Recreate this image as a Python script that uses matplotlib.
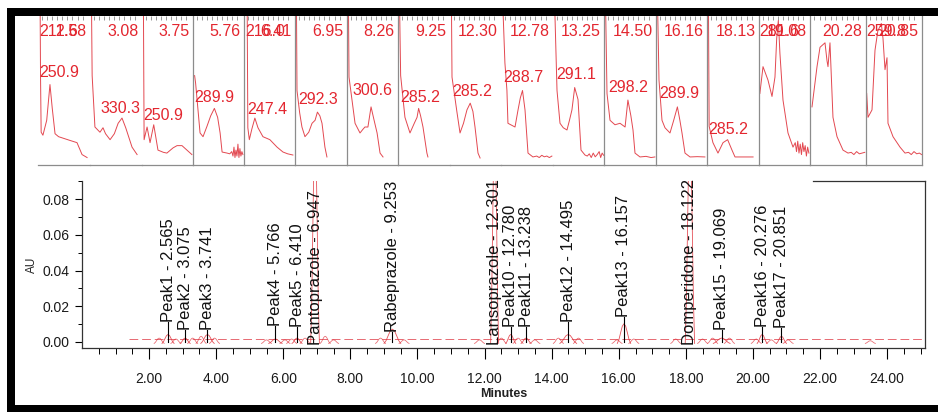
import matplotlib
matplotlib.use("Agg")
import matplotlib.pyplot as plt
from matplotlib.patches import Rectangle
import numpy as np

plt.rcParams['font.family'] = ['Liberation Sans', 'DejaVu Sans']

# ---------------- data ----------------
# UV spectra strip: retention time of each extracted spectrum
spec_rt_labels = ["2.58", "3.08", "3.75", "5.76", "6.41", "6.95", "8.26", "9.25",
                  "12.30", "12.78", "13.25", "14.50", "16.16", "18.13", "19.08",
                  "20.28", "20.85"]

# lambda-max annotations per spectrum (nm)
spec_lambda_max = [[211.6, 250.9], [330.3], [250.9], [289.9], [216.0, 247.4],
                   [292.3], [300.6], [285.2], [285.2], [288.7], [291.1], [298.2],
                   [289.9], [285.2], [281.6], [], [259.8]]

# spectra: wavelength (nm) and relative absorbance (1.0 = panel top)
spec_wl = [
    [210, 211.6, 213.5, 216, 223, 238, 250.9, 260, 271, 285, 303, 330, 358, 378, 398],
    [209, 212, 223, 243, 255, 265, 283, 300, 315, 330.3, 345, 370, 390],
    [209, 212, 224, 236, 250.9, 268, 290, 304, 329, 345, 365, 385, 405],
    [210, 214, 232, 244, 260, 275, 289.9, 303, 313, 321, 341, 352, 360, 365, 369, 373,
     377, 381, 385, 389, 393, 397, 401, 405],
    [210, 216.0, 219, 225, 235, 247.4, 260, 280, 308, 337, 361, 380, 401],
    [209, 211.4, 222, 231, 243, 258, 271, 283, 292.3, 302, 310.5, 322, 330],
    [209, 211.6, 236, 256, 268, 276, 288, 300.6, 313, 325, 337, 349],
    [209, 214, 231, 251, 268, 279, 285.2, 293, 302.5, 318, 322],
    [209, 211.6, 232, 244, 258, 272, 285.2, 296, 304.5, 316.6, 325],
    [209, 219, 227, 231, 259, 271, 280, 288.7, 298.6, 310.5, 330, 345, 355, 365, 375,
     385, 395, 405],
    [209, 219.7, 231.8, 245, 260, 270, 280, 291.1, 304.5, 316.6, 332.7, 342, 350, 358,
     366, 374, 382, 390, 396, 402, 408],
    [209, 215.4, 227.3, 247, 267, 287, 298.2, 310, 318.4, 326.3, 346, 370, 390, 405],
    [209, 215.6, 227.7, 239.8, 260, 275, 289.9, 300, 308.5, 320.6, 340.8, 370, 401],
    [209, 212, 227, 247, 267, 285.2, 302.5, 314.4, 340, 386],
    [207, 219.7, 239.8, 256, 268, 275, 281.6, 288, 300.4, 320.6, 340.8, 350, 355, 360,
     365, 370, 375, 380, 385, 390, 395, 400, 405],
    [210.9, 229.3, 240.3, 258.7, 266, 269.7, 277, 288, 302.9, 324.9, 343.3, 355, 365,
     375, 385, 395, 405],
    [206, 210.9, 225.6, 236.6, 247, 259.8, 266, 273.4, 280.8, 284.4, 302.9, 328.6, 347,
     360, 370, 380, 390, 400, 408],
]
spec_abs = [
    [1.15, 1.15, 0.60, 0.22, 0.20, 0.30, 0.54, 0.38, 0.21, 0.19, 0.18, 0.165, 0.15, 0.07, 0.05],
    [1.15, 0.60, 0.255, 0.22, 0.25, 0.21, 0.17, 0.21, 0.28, 0.315, 0.25, 0.12, 0.07],
    [1.15, 0.17, 0.255, 0.15, 0.27, 0.10, 0.085, 0.08, 0.115, 0.13, 0.13, 0.10, 0.07],
    [0.60, 0.55, 0.215, 0.19, 0.26, 0.33, 0.38, 0.32, 0.215, 0.087, 0.08, 0.075, 0.09,
     0.06, 0.12, 0.05, 0.10, 0.06, 0.14, 0.05, 0.11, 0.06, 0.09, 0.07],
    [1.15, 1.15, 0.25, 0.17, 0.24, 0.315, 0.25, 0.19, 0.17, 0.12, 0.087, 0.075, 0.067],
    [1.15, 0.50, 0.35, 0.255, 0.19, 0.22, 0.28, 0.30, 0.355, 0.33, 0.28, 0.12, 0.054],
    [1.15, 0.59, 0.28, 0.215, 0.24, 0.255, 0.255, 0.39, 0.30, 0.215, 0.08, 0.054],
    [1.15, 0.60, 0.32, 0.215, 0.28, 0.32, 0.38, 0.33, 0.255, 0.08, 0.054],
    [1.15, 0.59, 0.35, 0.215, 0.28, 0.37, 0.415, 0.36, 0.255, 0.08, 0.047],
    [1.15, 0.685, 0.50, 0.28, 0.255, 0.37, 0.45, 0.50, 0.37, 0.08, 0.054, 0.06, 0.05,
     0.065, 0.055, 0.06, 0.05, 0.06],
    [1.15, 0.50, 0.28, 0.25, 0.235, 0.30, 0.37, 0.52, 0.44, 0.10, 0.067, 0.06, 0.075,
     0.05, 0.08, 0.055, 0.07, 0.09, 0.05, 0.08, 0.065],
    [1.15, 0.48, 0.30, 0.27, 0.28, 0.255, 0.436, 0.33, 0.235, 0.08, 0.054, 0.058, 0.05, 0.054],
    [1.15, 0.57, 0.30, 0.25, 0.215, 0.30, 0.39, 0.30, 0.215, 0.08, 0.054, 0.056, 0.054],
    [1.15, 0.26, 0.15, 0.08, 0.15, 0.17, 0.10, 0.054, 0.054, 0.054],
    [0.48, 0.66, 0.57, 0.46, 0.59, 0.85, 0.97, 0.75, 0.436, 0.215, 0.12, 0.15, 0.09,
     0.16, 0.08, 0.14, 0.07, 0.15, 0.09, 0.13, 0.06, 0.12, 0.08],
    [0.39, 0.66, 0.79, 0.82, 0.70, 0.66, 0.82, 0.32, 0.19, 0.10, 0.08, 0.085, 0.07,
     0.09, 0.075, 0.08, 0.085],
    [0.48, 0.32, 0.37, 0.77, 0.90, 0.95, 0.85, 0.64, 0.72, 0.28, 0.19, 0.12, 0.08,
     0.085, 0.07, 0.09, 0.075, 0.08, 0.07],
]

# chromatogram: identified peaks
peak_names = ["Peak1", "Peak2", "Peak3", "Peak4", "Peak5", "Pantoprazole",
              "Rabeprazole", "Lansoprazole", "Peak10", "Peak11", "Peak12", "Peak13",
              "Domperidone", "Peak15", "Peak16", "Peak17"]
peak_rt = [2.565, 3.075, 3.741, 5.766, 6.410, 6.947, 9.253, 12.301, 12.780, 13.238,
           14.495, 16.157, 18.122, 19.069, 20.276, 20.851]
peak_height = [0.005, 0.003, 0.005, 0.0025, 0.003, 0.12, 0.008, 0.12, 0.005, 0.003,
               0.005, 0.011, 0.12, 0.003, 0.005, 0.004]
peak_halfwidth = [0.18, 0.15, 0.20, 0.20, 0.15, 0.13, 0.25, 0.12, 0.15, 0.15, 0.25,
                  0.20, 0.14, 0.25, 0.15, 0.15]

# small unlabelled humps on the trace
minor_rt = [2.3, 2.8, 3.3, 3.55, 3.95, 5.5, 6.05, 6.25, 6.65, 7.25, 7.5, 8.9, 9.6,
            11.85, 12.5, 13.0, 13.5, 14.2, 14.8, 15.95, 16.45, 17.7, 18.5, 18.8, 19.3,
            20.1, 20.55, 21.05, 23.5]
minor_height = [0.003, 0.0025, 0.003, 0.004, 0.003, 0.002, 0.002, 0.0025, 0.003, 0.004,
                0.002, 0.003, 0.002, 0.002, 0.003, 0.003, 0.002, 0.003, 0.003, 0.002,
                0.0025, 0.0025, 0.0025, 0.003, 0.003, 0.0025, 0.002, 0.002, 0.0015]

x_ticks = [2, 4, 6, 8, 10, 12, 14, 16, 18, 20, 22, 24]
y_ticks = [0.0, 0.02, 0.04, 0.06, 0.08]

# ---------------- layout ----------------
W, H = 938, 412
RED = '#e3262f'
LINE_RED = '#e0343d'
GREY = '#8c8c8c'

fig = plt.figure(figsize=(W / 100, H / 100), dpi=100)
fig.patch.set_facecolor('white')


def fig_rect(x0, y0, x1, y1):
    """Pixel box (top-left origin) -> figure fraction [l, b, w, h]."""
    return [x0 / W, 1 - y1 / H, (x1 - x0) / W, (y1 - y0) / H]


panel_edges = [38, 90, 142, 193, 244, 295, 347, 398, 450, 501, 553, 604, 656, 707,
               759, 810, 866, 922]
panel_top, panel_bottom = 16, 165
left_border = [False, False, False, True, True, True, True, True, False, False, False,
               True, True, True, True, True, True]
lambda_label_pos = [[(207.5, 0.895), (207.5, 0.62)], [(243, 0.38)], [(207.5, 0.33)],
                    [(207.5, 0.45)], [(207.5, 0.895), (215.6, 0.37)], [(215.4, 0.44)],
                    [(223.7, 0.50)], [(211.4, 0.45)], [(211.6, 0.49)], [(211.4, 0.59)],
                    [(215.6, 0.61)], [(219.3, 0.52)], [(215.6, 0.48)], [(207.5, 0.235)],
                    [(205, 0.895)], [], [(205, 0.895)]]
WL_MIN, WL_MAX = 203.5, 409.5

for i in range(len(spec_rt_labels)):
    x0, x1 = panel_edges[i], panel_edges[i + 1]
    ax = fig.add_axes(fig_rect(x0, panel_top, x1, panel_bottom))
    ax.set_xlim(WL_MIN, WL_MAX)
    ax.set_ylim(0, 1)
    ax.patch.set_alpha(0)
    ax.plot(spec_wl[i], spec_abs[i], color=LINE_RED, lw=0.7, alpha=0.9, clip_on=True)
    for s in ['top', 'right']:
        ax.spines[s].set_visible(False)
    ax.spines['left'].set_visible(left_border[i])
    if i == len(spec_rt_labels) - 1:
        ax.spines['right'].set_visible(True)
    for s in ['left', 'right', 'bottom']:
        ax.spines[s].set_color(GREY)
        ax.spines[s].set_linewidth(0.9)
    ax.set_xticks(np.arange(220, 400, 20))
    ax.set_yticks([])
    ax.tick_params(axis='x', which='both', top=True, bottom=False, direction='in',
                   length=3, width=0.7, color='#999999', labelbottom=False)
    # retention time (top right)
    ax.text(1 - 3.5 / (x1 - x0), 0.895, spec_rt_labels[i], transform=ax.transAxes,
            ha='right', va='center', color=RED, fontsize=11.5)
    for lam, (lx, ly) in zip(spec_lambda_max[i], lambda_label_pos[i]):
        ax.text(lx, ly, f"{lam:.1f}", ha='left', va='center', color=RED, fontsize=11.5)

# ---------------- chromatogram ----------------
X_MAX = 25.13
cax = fig.add_axes(fig_rect(82, 181, 925, 348))
cax.set_xlim(0, X_MAX)
cax.set_ylim(-0.00336, 0.0901)
cax.patch.set_alpha(0)

PROFILE_X = np.array([-1, -0.75, -0.5, -0.25, 0, 0.25, 0.5, 0.75, 1])
PROFILE_Y = np.array([0, 0.2, 0.55, 0.88, 1, 0.88, 0.55, 0.2, 0])
ARC_BASE = -0.0008

# baseline
cax.plot([1.4, X_MAX], [0.0017, 0.0017], color='#e2505a', lw=0.7, alpha=0.85,
         dashes=(9, 4))

for rt, h in zip(minor_rt, minor_height):
    cax.plot(rt + 0.15 * PROFILE_X, ARC_BASE + h * PROFILE_Y, color=LINE_RED,
             lw=0.55, alpha=0.75)

label_bottom = [0.0112, 0.0067, 0.0067, 0.0090, 0.0084, -0.0017, 0.0056, -0.0017,
                0.0084, 0.0084, 0.0112, 0.0140, -0.0017, 0.0067, 0.0084, 0.0078]

for name, rt, h, hw, lb in zip(peak_names, peak_rt, peak_height, peak_halfwidth,
                               label_bottom):
    cax.plot(rt + hw * PROFILE_X, ARC_BASE + h * PROFILE_Y, color=LINE_RED, lw=0.6,
             alpha=0.85)
    if lb > 0:
        cax.plot([rt, rt], [0.0, lb], color='black', lw=0.8)
    cax.text(rt, lb, f"{name} - {rt:.3f}", rotation=90, ha='center', va='bottom',
             fontsize=12, color='#111111')

cax.set_xticks(x_ticks)
cax.set_xticklabels([f"{v:.2f}" for v in x_ticks])
cax.set_xticks(np.arange(0.5, X_MAX, 0.5), minor=True)
cax.set_yticks(y_ticks)
cax.set_yticklabels([f"{v:.2f}" for v in y_ticks])
cax.set_yticks([0.01, 0.03, 0.05, 0.07, 0.09], minor=True)
cax.tick_params(axis='x', which='major', direction='out', length=8, width=0.8,
                pad=9, labelsize=10, labelcolor='#1a1a1a')
cax.tick_params(axis='x', which='minor', direction='out', length=4, width=0.7)
cax.tick_params(axis='y', which='major', direction='out', length=5, width=0.8,
                pad=4, labelsize=10, labelcolor='#1a1a1a')
cax.tick_params(axis='y', which='minor', direction='out', length=3, width=0.7)

for s in ['left', 'bottom', 'right', 'top']:
    cax.spines[s].set_color('#333333')
    cax.spines[s].set_linewidth(0.9)
cax.spines['top'].set_bounds(21.8, X_MAX)

cax.set_xlabel('Minutes', fontsize=9, fontweight='bold', color='#222222', labelpad=2)
cax.set_ylabel('AU', fontsize=8.5, color='#222222', va='center')
cax.yaxis.set_label_coords((32 - 82) / 843, 0.5)

# ---------------- black frame ----------------
for (x0, y0, x1, y1) in [(7, 8, 938, 15.5), (7, 8, 15, 412), (7, 405, 938, 412)]:
    l, b, w, h = fig_rect(x0, y0, x1, y1)
    fig.add_artist(Rectangle((l, b), w, h, transform=fig.transFigure,
                             facecolor='black', edgecolor='none', zorder=10))

fig.savefig('out.png', dpi=100, facecolor='white')
